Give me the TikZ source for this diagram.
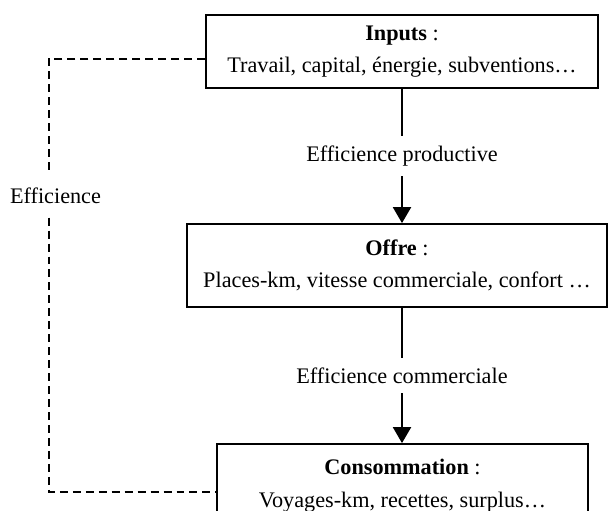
\documentclass[tikz,border=0pt]{standalone}
\usepackage{fontspec}
\setmainfont{Liberation Serif}
\usetikzlibrary{arrows.meta}
\tikzstyle{bloc} = [rectangle, draw=black, line width=1pt, text centered, align=center, fill=white]
\tikzstyle{arrow} = [line width=1.1pt, -{Triangle[length=8.6pt,width=9.7pt]}]
\tikzstyle{lbl} = [fill=white, inner xsep=2pt, inner ysep=5.4pt]
\tikzstyle{lien} = [line width=0.8pt, dash pattern=on 4.3pt off 2.7pt]

\begin{document}
\begin{tikzpicture}[x=0.54pt, y=-0.54pt, font=\fontsize{12}{17.5}\selectfont]

    \useasboundingbox (0,0) rectangle (608,510);

    \node[bloc,
        minimum width=211.7pt,
        minimum height=39.4pt]
    (inputs) at (402,51.5) {
        \textbf{Inputs} :\\
        Travail, capital, énergie, subventions…
    };

    \node[bloc,
        minimum width=226.8pt,
        minimum height=44.8pt]
    (offre) at (397,265.5) {
        \textbf{Offre} :\\
        Places-km, vitesse commerciale, confort …
    };

    \node[bloc,
        minimum width=200.3pt,
        minimum height=44.8pt]
    (conso) at (402.5,485.5) {
        \textbf{Consommation} :\\
        Voyages-km, recettes, surplus…
    };

    \node[inner ysep=7.2pt] (eff) at (55.5,196) {Efficience};

    \draw [arrow] (inputs.south) -- (inputs.south |- offre.north)
        node[lbl, midway] (prod) {Efficience productive};
    \draw [arrow] (offre.south -| inputs.south) -- (conso.north -| inputs.south)
        node[lbl, midway] (comm) {Efficience commerciale};

    \draw [lien] ([yshift=-4pt]inputs.west) -| ([xshift=-3.5pt]eff.north);
    \draw [lien] ([xshift=-3.5pt]eff.south) |- ([yshift=-3.5pt]conso.west);

\end{tikzpicture}
\end{document}
